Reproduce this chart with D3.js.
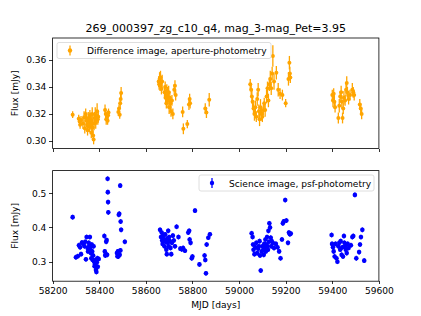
<!DOCTYPE html>
<meta charset="utf-8">
<style>
  body { margin: 0; background: #fff; }
  text { font-family: "DejaVu Sans", sans-serif; }
  .axis path, .axis line { stroke: #000; stroke-width: 0.8; shape-rendering: crispEdges; }
  .axis text { font-size: 9.1px; fill: #000; }
</style>
<script src="https://d3js.org/d3.v7.min.js"></script>
<div id="chart"></div>
<script>
// chart text
var title = "269_000397_zg_c10_q4, mag_3-mag_Pet=3.95";
var diffLabel = "Difference image, aperture-photometry";
var psfLabel = "Science image, psf-photometry";
var xTicks = [58200, 58400, 58600, 58800, 59000, 59200, 59400, 59600];
var topTicks = [0.30, 0.32, 0.34, 0.36];
var botTicks = [0.3, 0.4, 0.5];

// difference image: [mjd, flux, err]
var diffPts = [
  [58286,0.3195,0.0025],[58312,0.3165,0.003],[58316,0.3145,0.0035],[58318,0.3120,0.003],
  [58322,0.3155,0.003],[58330,0.3130,0.004],[58335,0.3175,0.0045],[58338,0.3095,0.004],
  [58342,0.3200,0.004],[58345,0.3150,0.005],[58348,0.3120,0.004],[58350,0.3080,0.004],
  [58353,0.3170,0.0045],[58356,0.3140,0.005],[58358,0.3105,0.004],[58360,0.3190,0.004],
  [58362,0.3160,0.005],[58364,0.3125,0.004],[58366,0.3060,0.004],[58368,0.3150,0.005],
  [58370,0.3200,0.005],[58372,0.3100,0.004],[58374,0.3040,0.004],[58376,0.3010,0.0035],
  [58378,0.3130,0.005],[58380,0.3170,0.0045],[58383,0.3190,0.006],[58385,0.3140,0.005],
  [58388,0.3170,0.005],[58391,0.3220,0.006],[58394,0.3160,0.004],[58396,0.3180,0.0045],
  [58425,0.3230,0.004],[58428,0.3200,0.004],[58430,0.3160,0.004],[58433,0.3180,0.003],
  [58436,0.3150,0.003],[58438,0.3190,0.0035],[58440,0.3210,0.003],[58482,0.3215,0.003],
  [58485,0.3240,0.003],[58488,0.3195,0.003],[58490,0.3280,0.004],[58492,0.3310,0.004],
  [58494,0.3355,0.0045],
  [58655,0.3440,0.004],[58657,0.3420,0.004],[58659,0.3460,0.005],[58661,0.3410,0.004],
  [58663,0.3470,0.005],[58665,0.3435,0.004],[58667,0.3385,0.004],[58670,0.3440,0.005],
  [58680,0.3360,0.005],[58683,0.3400,0.004],[58685,0.3320,0.005],[58688,0.3280,0.004],
  [58690,0.3370,0.005],[58693,0.3340,0.006],[58695,0.3300,0.005],[58698,0.3360,0.005],
  [58700,0.3250,0.005],[58703,0.3320,0.005],[58706,0.3280,0.005],[58708,0.3220,0.004],
  [58712,0.3300,0.004],[58716,0.3200,0.004],[58722,0.3380,0.004],[58725,0.3410,0.004],
  [58728,0.3340,0.004],[58758,0.3215,0.004],[58761,0.3090,0.004],[58778,0.3125,0.003],
  [58785,0.3270,0.004],[58788,0.3310,0.004],[58790,0.3280,0.004],[58855,0.3240,0.004],
  [58860,0.3210,0.004],[58872,0.3305,0.005],
  [59048,0.3420,0.004],[59052,0.3380,0.005],[59055,0.3330,0.005],[59058,0.3290,0.004],
  [59062,0.3240,0.004],[59066,0.3200,0.005],[59070,0.3250,0.005],[59074,0.3180,0.004],
  [59078,0.3310,0.005],[59082,0.3380,0.005],[59085,0.3220,0.005],[59088,0.3160,0.005],
  [59092,0.3250,0.006],[59096,0.3200,0.005],[59100,0.3180,0.004],[59104,0.3230,0.004],
  [59108,0.3280,0.004],[59112,0.3230,0.005],[59118,0.3330,0.005],[59122,0.3390,0.005],
  [59126,0.3300,0.005],[59130,0.3420,0.005],[59134,0.3460,0.006],[59138,0.3390,0.005],
  [59142,0.3500,0.005],[59145,0.3630,0.008],[59150,0.3440,0.006],[59160,0.3505,0.005],
  [59168,0.3380,0.005],[59176,0.3350,0.004],[59186,0.3340,0.004],[59200,0.3280,0.003],
  [59212,0.3460,0.005],[59216,0.3580,0.005],[59218,0.3500,0.005],[59220,0.3470,0.004],
  [59400,0.3340,0.004],[59403,0.3300,0.005],[59406,0.3350,0.004],[59409,0.3290,0.005],
  [59412,0.3250,0.004],[59426,0.3170,0.004],[59430,0.3260,0.005],[59434,0.3330,0.004],
  [59438,0.3360,0.005],[59441,0.3290,0.005],[59444,0.3170,0.004],[59447,0.3240,0.004],
  [59450,0.3320,0.005],[59455,0.3300,0.004],[59459,0.3380,0.005],[59462,0.3430,0.005],
  [59465,0.3360,0.004],[59470,0.3310,0.004],[59476,0.3340,0.004],[59486,0.3380,0.005],
  [59490,0.3360,0.004],[59494,0.3340,0.004],[59518,0.3270,0.004],[59522,0.3240,0.004],
  [59526,0.3200,0.004]
];

// science image psf photometry: [mjd, flux]
var psfPts = [
  [58286,0.430],[58300,0.313],[58308,0.316],[58313,0.348],[58318,0.342],[58322,0.322],
  [58326,0.356],[58332,0.352],[58337,0.345],[58340,0.358],[58343,0.307],[58346,0.372],
  [58350,0.340],[58352,0.330],[58355,0.355],[58358,0.348],[58360,0.372],[58362,0.338],
  [58364,0.325],[58366,0.310],[58368,0.350],[58370,0.330],[58372,0.305],[58374,0.318],
  [58376,0.345],[58378,0.300],[58380,0.287],[58382,0.292],[58384,0.305],[58386,0.276],
  [58388,0.270],[58390,0.298],[58392,0.310],[58394,0.285],[58398,0.308],[58422,0.375],
  [58424,0.330],[58426,0.318],[58428,0.322],[58430,0.358],[58432,0.363],[58434,0.320],
  [58436,0.542],[58437,0.503],[58438,0.474],[58439,0.444],[58476,0.325],[58478,0.316],
  [58480,0.330],[58482,0.315],[58484,0.437],[58486,0.440],[58488,0.320],[58490,0.522],
  [58491,0.333],[58492,0.417],[58494,0.393],[58510,0.358],
  [58661,0.393],[58665,0.372],[58668,0.385],[58670,0.362],[58672,0.352],[58675,0.375],
  [58678,0.365],[58680,0.345],[58683,0.380],[58685,0.358],[58688,0.335],[58690,0.322],
  [58692,0.368],[58694,0.355],[58696,0.390],[58698,0.345],[58700,0.372],[58703,0.360],
  [58706,0.340],[58709,0.322],[58712,0.355],[58716,0.376],[58720,0.362],[58725,0.345],
  [58732,0.402],[58740,0.372],[58748,0.338],[58754,0.336],[58760,0.340],[58768,0.332],
  [58782,0.385],[58786,0.390],[58788,0.365],[58792,0.355],[58797,0.310],[58800,0.315],
  [58811,0.449],[58830,0.292],[58852,0.318],[58855,0.305],[58858,0.266],[58861,0.350],
  [58868,0.370],[58875,0.380],
  [59054,0.383],[59058,0.372],[59060,0.350],[59062,0.335],[59066,0.322],[59070,0.342],
  [59074,0.355],[59078,0.325],[59082,0.338],[59085,0.345],[59088,0.360],[59090,0.318],
  [59093,0.274],[59097,0.330],[59100,0.345],[59104,0.335],[59106,0.320],[59108,0.352],
  [59110,0.340],[59113,0.365],[59115,0.330],[59117,0.350],[59120,0.372],[59122,0.345],
  [59124,0.335],[59126,0.390],[59128,0.358],[59130,0.412],[59133,0.400],[59136,0.370],
  [59138,0.345],[59140,0.360],[59145,0.355],[59150,0.340],[59158,0.352],[59165,0.342],
  [59172,0.330],[59178,0.310],[59184,0.365],[59188,0.412],[59192,0.418],[59198,0.480],
  [59203,0.420],[59210,0.355],[59214,0.385],[59218,0.380],[59222,0.382],
  [59397,0.378],[59399,0.352],[59403,0.342],[59406,0.330],[59410,0.315],[59414,0.352],
  [59418,0.310],[59422,0.300],[59426,0.345],[59430,0.355],[59434,0.335],[59436,0.360],
  [59440,0.320],[59443,0.342],[59446,0.315],[59450,0.375],[59452,0.355],[59455,0.345],
  [59458,0.335],[59462,0.325],[59466,0.352],[59470,0.340],[59480,0.348],[59486,0.372],
  [59490,0.375],[59497,0.495],[59503,0.310],[59515,0.328],[59519,0.350],[59523,0.372],
  [59529,0.393],[59537,0.303]
];
var psfErr = 0.007;

var W = 421, H = 316;
var left = 52.6, right = 378.9;
var topPanel = {y0: 38, y1: 148.5};
var botPanel = {y0: 170.6, y1: 281.2};

var svg = d3.select("#chart").append("svg")
  .attr("width", W).attr("height", H);

var x = d3.scaleLinear().domain([58200, 59600]).range([left, right]);
var yTop = d3.scaleLinear().domain([0.2944, 0.3763]).range([topPanel.y1, topPanel.y0]);
var yBot = d3.scaleLinear().domain([0.243, 0.566]).range([botPanel.y1, botPanel.y0]);

// title
svg.append("text")
  .attr("x", (left + right) / 2).attr("y", 32)
  .attr("text-anchor", "middle")
  .style("font-size", "11px")
  .text(title);

function panel(p, y, yticks, yfmt, showX) {
  var g = svg.append("g");
  g.append("g").attr("class", "axis")
    .attr("transform", "translate(0," + p.y1 + ")")
    .call(d3.axisBottom(x).tickValues(xTicks).tickSize(3.2).tickPadding(3)
      .tickFormat(showX ? d3.format("d") : ""));
  g.append("g").attr("class", "axis")
    .attr("transform", "translate(" + left + ",0)")
    .call(d3.axisLeft(y).tickValues(yticks).tickSize(3.2).tickPadding(3)
      .tickFormat(d3.format(yfmt)));
  g.selectAll(".domain").remove();
  g.append("rect")
    .attr("x", left).attr("y", p.y0)
    .attr("width", right - left).attr("height", p.y1 - p.y0)
    .attr("fill", "none").attr("stroke", "#000").attr("stroke-width", 0.8);
  g.append("text")
    .attr("transform", "translate(18," + ((p.y0 + p.y1) / 2) + ") rotate(-90)")
    .attr("text-anchor", "middle")
    .style("font-size", "9.1px")
    .text("Flux [mJy]");
  return g;
}

var gTop = panel(topPanel, yTop, topTicks, ".2f", false);
var gBot = panel(botPanel, yBot, botTicks, ".1f", true);

// top series: error bars + dots
var orange = "#ffa500";
gTop.append("g").selectAll("line")
  .data(diffPts).join("line")
  .attr("x1", function (d) { return x(d[0]); })
  .attr("x2", function (d) { return x(d[0]); })
  .attr("y1", function (d) { return yTop(d[1] - d[2]); })
  .attr("y2", function (d) { return yTop(d[1] + d[2]); })
  .attr("stroke", orange).attr("stroke-width", 1.3);
gTop.append("g").selectAll("circle")
  .data(diffPts).join("circle")
  .attr("cx", function (d) { return x(d[0]); })
  .attr("cy", function (d) { return yTop(d[1]); })
  .attr("r", 2)
  .attr("fill", orange);

// bottom series
var blue = "#0000ff";
gBot.append("g").selectAll("line")
  .data(psfPts).join("line")
  .attr("x1", function (d) { return x(d[0]); })
  .attr("x2", function (d) { return x(d[0]); })
  .attr("y1", function (d) { return yBot(d[1] - psfErr); })
  .attr("y2", function (d) { return yBot(d[1] + psfErr); })
  .attr("stroke", blue).attr("stroke-width", 1.3);
gBot.append("g").selectAll("circle")
  .data(psfPts).join("circle")
  .attr("cx", function (d) { return x(d[0]); })
  .attr("cy", function (d) { return yBot(d[1]); })
  .attr("r", 2.3)
  .attr("fill", blue);

// legends
function legend(x0, y0, w, label, color) {
  var g = svg.append("g");
  g.append("rect")
    .attr("x", x0).attr("y", y0).attr("width", w).attr("height", 16)
    .attr("rx", 2)
    .attr("fill", "#fff").attr("fill-opacity", 0.8)
    .attr("stroke", "#d6d6d6").attr("stroke-width", 0.8);
  g.append("line")
    .attr("x1", x0 + 13).attr("x2", x0 + 13)
    .attr("y1", y0 + 3).attr("y2", y0 + 13)
    .attr("stroke", color).attr("stroke-width", 1.3);
  g.append("circle")
    .attr("cx", x0 + 13).attr("cy", y0 + 8).attr("r", 2.2)
    .attr("fill", color);
  g.append("text")
    .attr("x", x0 + 30).attr("y", y0 + 11.5)
    .style("font-size", "9.1px")
    .text(label);
}
legend(57, 42.5, 214, diffLabel, orange);
legend(199, 175, 175, psfLabel, blue);

// x label
svg.append("text")
  .attr("x", (left + right) / 2).attr("y", 308)
  .attr("text-anchor", "middle")
  .style("font-size", "9.1px")
  .text("MJD [days]");
</script>
